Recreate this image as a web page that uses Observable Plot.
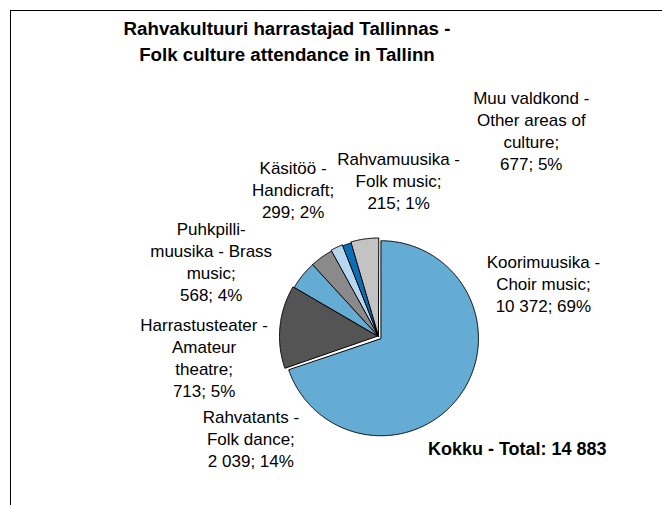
<!DOCTYPE html>
<html>
<head>
<meta charset="utf-8">
<script src="https://cdn.jsdelivr.net/npm/d3@7"></script>
<script src="https://cdn.jsdelivr.net/npm/@observablehq/plot@0.6"></script>
<style>
  html, body { margin: 0; padding: 0; background: #fff; overflow: hidden; }
  body { width: 662px; height: 505px; position: relative; font-family: "Liberation Sans", Arial, Helvetica, sans-serif; }
  #frame { position: absolute; left: 10px; top: 10px; width: 700px; height: 600px; border-top: 1.5px solid #000; border-left: 1.5px solid #000; }
  #title { position: absolute; left: 87px; top: 16px; width: 400px; text-align: center; font-weight: bold; font-size: 18.7px; line-height: 26px; color: #000; }
  #chart { position: absolute; left: 0; top: 0; }
</style>
</head>
<body>
<div id="frame"></div>
<div id="chart"></div>
<div id="title">Rahvakultuuri harrastajad Tallinnas -<br>Folk culture attendance in Tallinn</div>
<script>
// ---- data ----
const categories = ["Koorimuusika", "Rahvatants", "Harrastusteater", "Puhkpillimuusika", "Käsitöö", "Rahvamuusika", "Muu valdkond"];
const values = [10372, 2039, 713, 568, 299, 215, 677];
const percents = [69, 14, 5, 4, 2, 1, 5];
const labelNames = [
  "Koorimuusika -\nChoir music;",
  "Rahvatants -\nFolk dance;",
  "Harrastusteater -\nAmateur\ntheatre;",
  "Puhkpilli-\nmuusika - Brass\nmusic;",
  "Käsitöö -\nHandicraft;",
  "Rahvamuusika -\nFolk music;",
  "Muu valdkond -\nOther areas of\nculture;"
];
const sliceColors = ["#65acd5", "#545454", "#65acd5", "#8a8a8a", "#b6d7ee", "#0a6fb6", "#c3c3c3"];
const totalLabel = "Kokku - Total: ";

// ---- layout (pixels / unit-circle offsets) ----
const cx = 378, cy = 336, R = 97.5;
const explodePx = [3, 1.5, 0, 0, 1, 0, 1];
// label block centres, in pie-radius units relative to the pie centre
const labelPos = [
  [1.691, 0.546], [-1.309, -1.041], [-1.789, -0.206], [-1.716, 0.778],
  [-0.876, 1.515], [0.206, 1.608], [1.567, 2.119]
];
const totalPos = [1.423, -1.155];

const total = d3.sum(values);
const fmt = d3.formatLocale({decimal: ",", thousands: " ", grouping: [3], currency: ["", ""]}).format(",");

// slice polygons computed from the values
const pts = [];
let cum = 0;
values.forEach((v, i) => {
  const a0 = cum / total * 2 * Math.PI;
  cum += v;
  const a1 = cum / total * 2 * Math.PI;
  const am = (a0 + a1) / 2;
  const off = explodePx[i] / R;
  const ox = off * Math.sin(am), oy = off * Math.cos(am);
  pts.push({key: categories[i], x: ox, y: oy});
  const n = Math.max(2, Math.ceil((a1 - a0) / (Math.PI / 360)));
  for (let k = 0; k <= n; k++) {
    const a = a0 + (a1 - a0) * k / n;
    pts.push({key: categories[i], x: ox + Math.sin(a), y: oy + Math.cos(a)});
  }
});

const labels = categories.map((c, i) => ({
  key: c,
  x: labelPos[i][0], y: labelPos[i][1],
  text: `${labelNames[i]}\n${fmt(values[i])}; ${percents[i]}%`
}));

const chart = Plot.plot({
  width: 662, height: 505,
  margin: 0,
  style: {fontFamily: '"Liberation Sans", Arial, Helvetica, sans-serif', background: "transparent", color: "#000"},
  x: {domain: [-1, 1], range: [cx - R, cx + R], axis: null},
  y: {domain: [-1, 1], range: [cy + R, cy - R], axis: null},
  color: {domain: categories, range: sliceColors},
  marks: [
    Plot.line(pts, {x: "x", y: "y", z: "key", fill: "key", stroke: "#000", strokeWidth: 1, strokeLinejoin: "round", curve: "linear-closed"}),
    Plot.text(labels, {x: "x", y: "y", text: "text", fontSize: 17, lineHeight: 22 / 17, fill: "#000", textAnchor: "middle"}),
    Plot.text([totalLabel + fmt(total)], {x: () => totalPos[0], y: () => totalPos[1], text: d => d, fontSize: 18, fontWeight: "bold", fill: "#000", textAnchor: "middle"})
  ]
});
document.getElementById("chart").appendChild(chart);
</script>
</body>
</html>
